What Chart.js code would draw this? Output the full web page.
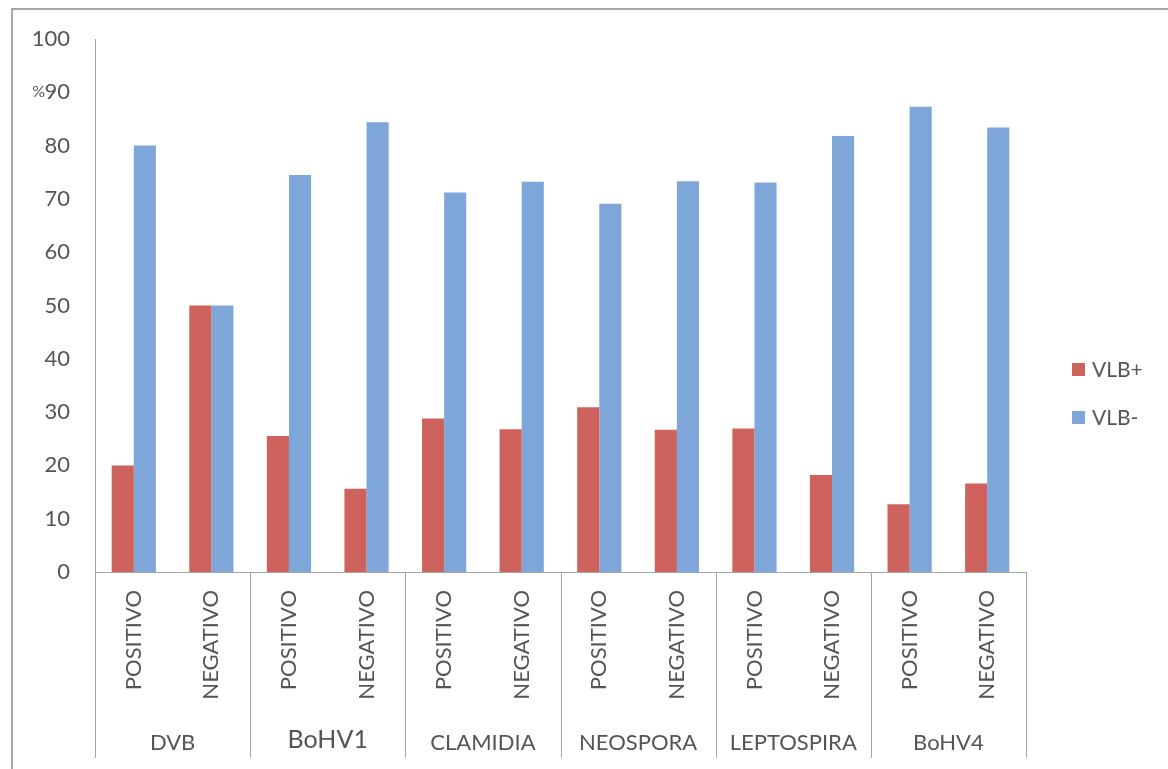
<!DOCTYPE html>
<html>
<head>
<meta charset="utf-8">
<title>VLB</title>
<script src="https://cdn.jsdelivr.net/npm/chart.js@4/dist/chart.umd.min.js"></script>
<style>
  html, body { margin: 0; padding: 0; background: #fff; }
  canvas { display: block; }
</style>
</head>
<body>
<canvas id="chart" width="1168" height="769"></canvas>
<script>
// ── Data ────────────────────────────────────────────────────────────────────
const GROUPS  = ['DVB', 'BoHV1', 'CLAMIDIA', 'NEOSPORA', 'LEPTOSPIRA', 'BoHV4'];
const RESULTS = ['POSITIVO', 'NEGATIVO'];
const Y_TICKS = [0, 10, 20, 30, 40, 50, 60, 70, 80, 90, 100];

const VLB_POS = [20.0, 50.0, 25.5, 15.6, 28.8, 26.8, 30.9, 26.7, 26.9, 18.2, 12.7, 16.6];
const VLB_NEG = [80.0, 50.0, 74.5, 84.4, 71.2, 73.2, 69.1, 73.3, 73.1, 81.8, 87.3, 83.4];

const SERIES_LABELS = ['VLB+', 'VLB-'];

// ── Theme ───────────────────────────────────────────────────────────────────
const FONT = "Lato, 'Open Sans', sans-serif";
const TEXT = '#555555';
const LINE = '#a6a6a6';
const COLORS = {
  pos: '#cd635c',
  neg: '#7ea6d8',
};

const labels = GROUPS.flatMap(() => RESULTS);

// ── Group row, separators, legend, frame ────────────────────────────────────
const groupAxis = {
  id: 'groupAxis',
  afterDraw(chart) {
    const { ctx, chartArea } = chart;
    const x = chart.scales.x;
    const half = (x.getPixelForValue(1) - x.getPixelForValue(0)) / 2;
    const bottom = 758;

    ctx.save();
    // outer frame
    ctx.strokeStyle = '#8c8c8c';
    ctx.lineWidth = 1.5;
    ctx.strokeRect(12, 9, 1200, 800);

    // axis line continued through label rows + group separators
    ctx.strokeStyle = LINE;
    ctx.lineWidth = 1;
    ctx.beginPath();
    for (let g = 0; g <= GROUPS.length; g++) {
      const i = g * 2;
      const px = Math.round(x.getPixelForValue(Math.min(i, labels.length - 1)) + (i < labels.length ? -half : half)) + 0.5;
      ctx.moveTo(px, chartArea.bottom);
      ctx.lineTo(px, bottom);
    }
    ctx.stroke();

    // group labels
    ctx.fillStyle = TEXT;
    ctx.textAlign = 'center';
    ctx.textBaseline = 'middle';
    GROUPS.forEach((g, k) => {
      const cx = (x.getPixelForValue(k * 2) + x.getPixelForValue(k * 2 + 1)) / 2;
      ctx.font = (g === 'BoHV1' ? '25px ' : '22px ') + FONT;
      ctx.fillText(g, cx, g === 'BoHV1' ? 740 : 743);
    });

    // "%" axis mark overlapping the 90 tick
    ctx.font = '16px ' + FONT;
    ctx.textAlign = 'right';
    ctx.fillText('%', 45, chart.scales.y.getPixelForValue(90));

    // legend
    ctx.font = '21px ' + FONT;
    ctx.textAlign = 'left';
    chart.data.datasets.forEach((ds, i) => {
      const cy = 369 + i * 48;
      ctx.fillStyle = ds.backgroundColor;
      ctx.fillRect(1072, cy - 6, 13, 13);
      ctx.fillStyle = TEXT;
      ctx.fillText(ds.label, 1092, cy + 1);
    });
    ctx.restore();
  },
};

// ── Chart ───────────────────────────────────────────────────────────────────
new Chart(document.getElementById('chart'), {
  type: 'bar',
  data: {
    labels,
    datasets: [
      { label: SERIES_LABELS[0], data: VLB_POS, backgroundColor: COLORS.pos },
      { label: SERIES_LABELS[1], data: VLB_NEG, backgroundColor: COLORS.neg },
    ],
  },
  options: {
    responsive: false,
    animation: false,
    datasets: { bar: { categoryPercentage: 0.57, barPercentage: 1.0 } },
    layout: { padding: { top: 39, right: 142, bottom: 0, left: 0 } },
    plugins: {
      legend: { display: false },
      tooltip: { enabled: false },
    },
    scales: {
      x: {
        grid: { display: false },
        border: { display: true, color: LINE, width: 1 },
        ticks: {
          color: TEXT,
          font: { family: FONT, size: 22 },
          minRotation: 90,
          maxRotation: 90,
          padding: 10,
          autoSkip: false,
        },
        afterFit: s => { s.height = 197; },
      },
      y: {
        min: 0,
        max: 100,
        afterBuildTicks: s => { s.ticks = Y_TICKS.map(v => ({ value: v })); },
        grid: { display: false, drawTicks: false },
        border: { display: true, color: LINE, width: 1 },
        ticks: {
          color: TEXT,
          font: { family: FONT, size: 22 },
          padding: 25,
        },
        afterFit: s => { s.width = 95; },
      },
    },
  },
  plugins: [groupAxis],
});
</script>
</body>
</html>
